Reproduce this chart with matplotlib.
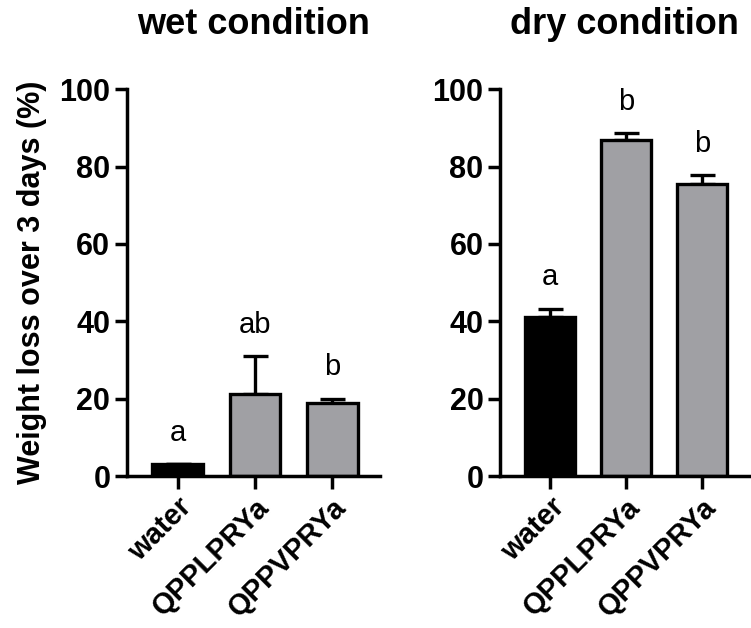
import numpy as np
import matplotlib
matplotlib.use("Agg")
import matplotlib.pyplot as plt

plt.rcParams['font.family'] = ['Liberation Sans', 'DejaVu Sans']

groups = ["water", "QPPLPRYa", "QPPVPRYa"]

wet_mean = [3, 21.2, 18.9]
wet_err = [0, 9.8, 1.1]
wet_letters = ["a", "ab", "b"]

dry_mean = [41, 86.8, 75.4]
dry_err = [2.2, 1.8, 2.4]
dry_letters = ["a", "b", "b"]

bar_colors = ["black", "#a0a0a4", "#a0a0a4"]

fig = plt.figure(figsize=(7.51, 6.28), dpi=100)
ax1 = fig.add_axes([0.169, 0.242, 0.337, 0.616])
ax2 = fig.add_axes([0.666, 0.242, 0.332, 0.616])


def draw_panel(ax, means, errs, letters, title):
    x = np.arange(len(groups))
    ax.bar(x, means, width=0.66, color=bar_colors, edgecolor="black",
           linewidth=2.4, zorder=2)
    # one-sided error bars (upper only)
    ax.errorbar(x, means, yerr=[np.zeros(len(errs)), errs], fmt="none",
                ecolor="black", elinewidth=2.4, capsize=9, capthick=2.4, zorder=1)
    for xi, m, e, lab in zip(x, means, errs, letters):
        ax.text(xi, m + e + 4.5, lab, ha="center", va="bottom", fontsize=21)
    ax.set_xlim(-0.66, 2.62)
    ax.set_ylim(0, 100)
    ax.set_yticks([0, 20, 40, 60, 80, 100])
    ax.set_xticks(x)
    ax.set_xticklabels(groups, rotation=45, ha="right", rotation_mode="anchor",
                       fontsize=21, fontweight="bold")
    for lab in ax.get_yticklabels():
        lab.set_fontweight("bold")
        lab.set_fontsize(22)
    ax.spines["top"].set_visible(False)
    ax.spines["right"].set_visible(False)
    ax.spines["left"].set_linewidth(2.5)
    ax.spines["bottom"].set_linewidth(2.5)
    ax.tick_params(width=2.5, length=9, pad=3)
    ax.set_title(title, fontsize=26, fontweight="bold", pad=40)


draw_panel(ax1, wet_mean, wet_err, wet_letters, "wet condition")
draw_panel(ax2, dry_mean, dry_err, dry_letters, "dry condition")

ax1.set_ylabel("Weight loss over 3 days (%)", fontsize=22, fontweight="bold",
               labelpad=9)

plt.savefig("out.png", dpi=100)
